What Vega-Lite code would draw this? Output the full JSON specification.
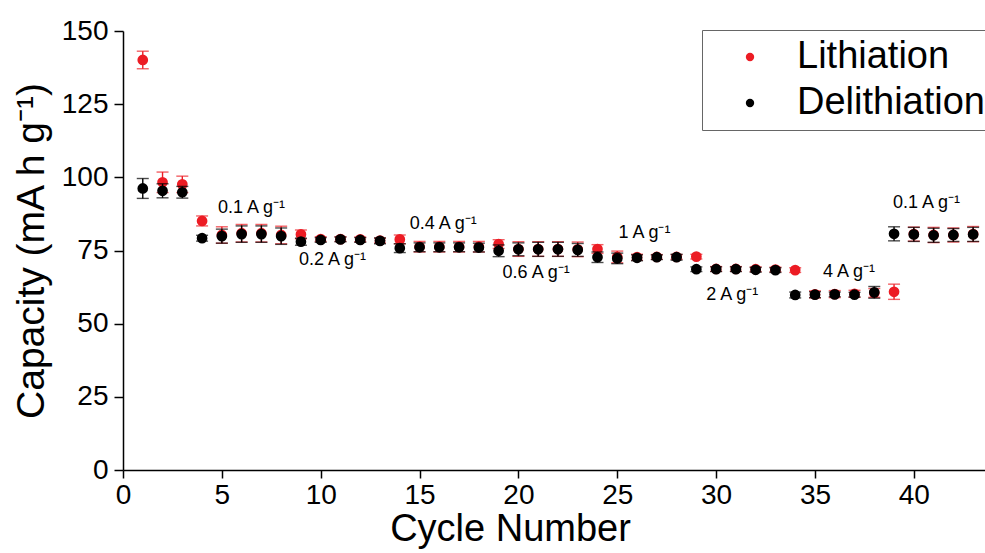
{
  "$schema": "https://vega.github.io/schema/vega-lite/v6.json",
  "width": 862,
  "height": 439,
  "autosize": {"type": "none"},
  "padding": {"left": 123, "top": 31, "right": 0, "bottom": 83},
  "background": "white",
  "config": {
    "view": {"stroke": null},
    "font": "Liberation Sans",
    "axis": {"domainColor": "black", "domainWidth": 1.5, "tickColor": "black", "tickWidth": 1.5, "labelColor": "black", "titleColor": "black", "labelFont": "Liberation Sans", "titleFont": "Liberation Sans", "titleFontWeight": "normal", "grid": false}
  },
  "datasets": {
    "cap": [
      {"cycle": 1, "series": "Lithiation", "cap": 140.1, "err": 3},
      {"cycle": 2, "series": "Lithiation", "cap": 98.3, "err": 3.5},
      {"cycle": 3, "series": "Lithiation", "cap": 97.6, "err": 2.8},
      {"cycle": 4, "series": "Lithiation", "cap": 85.1, "err": 1.7},
      {"cycle": 5, "series": "Lithiation", "cap": 80.3, "err": 2.8},
      {"cycle": 6, "series": "Lithiation", "cap": 80.9, "err": 3},
      {"cycle": 7, "series": "Lithiation", "cap": 80.9, "err": 3},
      {"cycle": 8, "series": "Lithiation", "cap": 80.3, "err": 3},
      {"cycle": 9, "series": "Lithiation", "cap": 80.5, "err": 1.5},
      {"cycle": 10, "series": "Lithiation", "cap": 78.9, "err": 0.8},
      {"cycle": 11, "series": "Lithiation", "cap": 78.9, "err": 0.8},
      {"cycle": 12, "series": "Lithiation", "cap": 78.8, "err": 0.8},
      {"cycle": 13, "series": "Lithiation", "cap": 78.4, "err": 0.8},
      {"cycle": 14, "series": "Lithiation", "cap": 78.8, "err": 1.5},
      {"cycle": 15, "series": "Lithiation", "cap": 76.3, "err": 1.8},
      {"cycle": 16, "series": "Lithiation", "cap": 76.3, "err": 1.8},
      {"cycle": 17, "series": "Lithiation", "cap": 76.3, "err": 1.8},
      {"cycle": 18, "series": "Lithiation", "cap": 76.3, "err": 1.8},
      {"cycle": 19, "series": "Lithiation", "cap": 77.2, "err": 1.5},
      {"cycle": 20, "series": "Lithiation", "cap": 75.5, "err": 2.5},
      {"cycle": 21, "series": "Lithiation", "cap": 75.5, "err": 2.5},
      {"cycle": 22, "series": "Lithiation", "cap": 75.5, "err": 2.5},
      {"cycle": 23, "series": "Lithiation", "cap": 75.4, "err": 2.5},
      {"cycle": 24, "series": "Lithiation", "cap": 75.5, "err": 1.5},
      {"cycle": 25, "series": "Lithiation", "cap": 72.8, "err": 2},
      {"cycle": 26, "series": "Lithiation", "cap": 72.7, "err": 1},
      {"cycle": 27, "series": "Lithiation", "cap": 72.8, "err": 0.8},
      {"cycle": 28, "series": "Lithiation", "cap": 72.8, "err": 0.8},
      {"cycle": 29, "series": "Lithiation", "cap": 72.9, "err": 0.8},
      {"cycle": 30, "series": "Lithiation", "cap": 68.7, "err": 0.8},
      {"cycle": 31, "series": "Lithiation", "cap": 68.7, "err": 0.8},
      {"cycle": 32, "series": "Lithiation", "cap": 68.6, "err": 0.8},
      {"cycle": 33, "series": "Lithiation", "cap": 68.5, "err": 0.8},
      {"cycle": 34, "series": "Lithiation", "cap": 68.3, "err": 0.8},
      {"cycle": 35, "series": "Lithiation", "cap": 60.0, "err": 1.2},
      {"cycle": 36, "series": "Lithiation", "cap": 60.1, "err": 1.2},
      {"cycle": 37, "series": "Lithiation", "cap": 60.2, "err": 1.2},
      {"cycle": 38, "series": "Lithiation", "cap": 60.5, "err": 1.5},
      {"cycle": 39, "series": "Lithiation", "cap": 60.9, "err": 2.6},
      {"cycle": 40, "series": "Lithiation", "cap": 80.6, "err": 2.4},
      {"cycle": 41, "series": "Lithiation", "cap": 80.3, "err": 2.6},
      {"cycle": 42, "series": "Lithiation", "cap": 80.3, "err": 2.4},
      {"cycle": 43, "series": "Lithiation", "cap": 80.6, "err": 2.6},
      {"cycle": 1, "series": "Delithiation", "cap": 96.2, "err": 3.4},
      {"cycle": 2, "series": "Delithiation", "cap": 95.4, "err": 2.4},
      {"cycle": 3, "series": "Delithiation", "cap": 94.9, "err": 2},
      {"cycle": 4, "series": "Delithiation", "cap": 79.2, "err": 1},
      {"cycle": 5, "series": "Delithiation", "cap": 79.9, "err": 2.4},
      {"cycle": 6, "series": "Delithiation", "cap": 80.6, "err": 2.8},
      {"cycle": 7, "series": "Delithiation", "cap": 80.6, "err": 2.8},
      {"cycle": 8, "series": "Delithiation", "cap": 79.9, "err": 2.8},
      {"cycle": 9, "series": "Delithiation", "cap": 78.0, "err": 1.2},
      {"cycle": 10, "series": "Delithiation", "cap": 78.6, "err": 0.8},
      {"cycle": 11, "series": "Delithiation", "cap": 78.8, "err": 0.8},
      {"cycle": 12, "series": "Delithiation", "cap": 78.6, "err": 0.8},
      {"cycle": 13, "series": "Delithiation", "cap": 78.3, "err": 1},
      {"cycle": 14, "series": "Delithiation", "cap": 75.8, "err": 1.5},
      {"cycle": 15, "series": "Delithiation", "cap": 76.1, "err": 1.5},
      {"cycle": 16, "series": "Delithiation", "cap": 76.1, "err": 1.5},
      {"cycle": 17, "series": "Delithiation", "cap": 76.1, "err": 1.5},
      {"cycle": 18, "series": "Delithiation", "cap": 76.0, "err": 1.5},
      {"cycle": 19, "series": "Delithiation", "cap": 74.9, "err": 2},
      {"cycle": 20, "series": "Delithiation", "cap": 75.4, "err": 2.2},
      {"cycle": 21, "series": "Delithiation", "cap": 75.4, "err": 2.4},
      {"cycle": 22, "series": "Delithiation", "cap": 75.4, "err": 2.4},
      {"cycle": 23, "series": "Delithiation", "cap": 75.2, "err": 2.2},
      {"cycle": 24, "series": "Delithiation", "cap": 72.7, "err": 1.8},
      {"cycle": 25, "series": "Delithiation", "cap": 72.3, "err": 1.8},
      {"cycle": 26, "series": "Delithiation", "cap": 72.5, "err": 1},
      {"cycle": 27, "series": "Delithiation", "cap": 72.7, "err": 0.8},
      {"cycle": 28, "series": "Delithiation", "cap": 72.7, "err": 1},
      {"cycle": 29, "series": "Delithiation", "cap": 68.6, "err": 0.8},
      {"cycle": 30, "series": "Delithiation", "cap": 68.6, "err": 0.8},
      {"cycle": 31, "series": "Delithiation", "cap": 68.6, "err": 0.8},
      {"cycle": 32, "series": "Delithiation", "cap": 68.4, "err": 0.8},
      {"cycle": 33, "series": "Delithiation", "cap": 68.3, "err": 0.8},
      {"cycle": 34, "series": "Delithiation", "cap": 59.8, "err": 1},
      {"cycle": 35, "series": "Delithiation", "cap": 59.9, "err": 1},
      {"cycle": 36, "series": "Delithiation", "cap": 60.0, "err": 0.8},
      {"cycle": 37, "series": "Delithiation", "cap": 59.9, "err": 0.8},
      {"cycle": 38, "series": "Delithiation", "cap": 60.7, "err": 2},
      {"cycle": 39, "series": "Delithiation", "cap": 80.7, "err": 2.4},
      {"cycle": 40, "series": "Delithiation", "cap": 80.5, "err": 2.4},
      {"cycle": 41, "series": "Delithiation", "cap": 80.2, "err": 2.4},
      {"cycle": 42, "series": "Delithiation", "cap": 80.3, "err": 2.2},
      {"cycle": 43, "series": "Delithiation", "cap": 80.5, "err": 2.4}
    ],
    "notes": [
      {"label": "0.1 A g⁻¹", "x": 4.8, "y": 89.5},
      {"label": "0.2 A g⁻¹", "x": 8.9, "y": 71.7},
      {"label": "0.4 A g⁻¹", "x": 14.5, "y": 84.0},
      {"label": "0.6 A g⁻¹", "x": 19.2, "y": 67.3},
      {"label": "1 A g⁻¹", "x": 25.06, "y": 81.0},
      {"label": "2 A g⁻¹", "x": 29.5, "y": 59.8},
      {"label": "4 A g⁻¹", "x": 35.4, "y": 67.6},
      {"label": "0.1 A g⁻¹", "x": 38.95, "y": 91.2}
    ]
  },
  "layer": [
    {
      "data": {"name": "cap"},
      "transform": [{"filter": "datum.series === 'Lithiation'"}],
      "mark": {"type": "errorbar", "color": "#ec1c24", "ticks": true, "size": 12, "thickness": 1.4},
      "encoding": {
        "x": {"field": "cycle", "type": "quantitative", "title": "Cycle Number", "scale": {"domain": [0, 43.6], "nice": false, "zero": false},
          "axis": {"values": [0, 5, 10, 15, 20, 25, 30, 35, 40], "labelFontSize": 28, "titleFontSize": 38, "tickSize": 8, "labelPadding": 3, "titlePadding": 1, "titleX": 387, "labelFlush": false}},
        "y": {"field": "cap", "type": "quantitative", "title": "Capacity (mA h g⁻¹)", "scale": {"domain": [0, 150], "nice": false},
          "axis": {"values": [0, 12.5, 25, 37.5, 50, 62.5, 75, 87.5, 100, 112.5, 125, 137.5, 150],
            "labelExpr": "datum.value % 25 === 0 ? datum.label : ''",
            "tickSize": {"condition": {"test": "datum.value % 25 === 0", "value": 9}, "value": 5},
            "labelFontSize": 28, "titleFontSize": 39, "labelPadding": 6, "titlePadding": 10, "labelFlush": false}},
        "yError": {"field": "err"}
      }
    },
    {
      "data": {"name": "cap"},
      "transform": [{"filter": "datum.series === 'Lithiation'"}],
      "mark": {"type": "point", "filled": true, "size": 115, "opacity": 1},
      "encoding": {
        "x": {"field": "cycle", "type": "quantitative", "title": "Cycle Number"},
        "y": {"field": "cap", "type": "quantitative", "title": "Capacity (mA h g⁻¹)"},
        "color": {"field": "series", "type": "nominal",
          "scale": {"domain": ["Lithiation", "Delithiation"], "range": ["#ec1c24", "#000000"]},
          "legend": {"orient": "none", "legendX": 579, "legendY": -1, "title": null, "labelFontSize": 38, "labelFont": "Liberation Sans", "labelColor": "black", "labelLimit": 500,
            "symbolSize": 70, "symbolType": "circle", "symbolStrokeWidth": 0, "symbolOpacity": 1, "strokeColor": "#666", "fillColor": "white", "padding": 8, "rowPadding": 8, "symbolOffset": 21, "labelOffset": 28}}
      }
    },
    {
      "data": {"name": "cap"},
      "transform": [{"filter": "datum.series === 'Delithiation'"}],
      "mark": {"type": "errorbar", "color": "#000000", "ticks": true, "size": 12, "thickness": 1.4},
      "encoding": {
        "x": {"field": "cycle", "type": "quantitative", "title": "Cycle Number"},
        "y": {"field": "cap", "type": "quantitative", "title": "Capacity (mA h g⁻¹)"},
        "yError": {"field": "err"}
      }
    },
    {
      "data": {"name": "cap"},
      "transform": [{"filter": "datum.series === 'Delithiation'"}],
      "mark": {"type": "point", "filled": true, "size": 115, "opacity": 1},
      "encoding": {
        "x": {"field": "cycle", "type": "quantitative", "title": "Cycle Number"},
        "y": {"field": "cap", "type": "quantitative", "title": "Capacity (mA h g⁻¹)"},
        "color": {"field": "series", "type": "nominal", "scale": {"domain": ["Lithiation", "Delithiation"], "range": ["#ec1c24", "#000000"]}}
      }
    },
    {
      "data": {"name": "notes"},
      "mark": {"type": "text", "align": "left", "baseline": "middle", "fontSize": 18, "font": "Liberation Sans", "color": "black"},
      "encoding": {
        "x": {"field": "x", "type": "quantitative", "title": "Cycle Number"},
        "y": {"field": "y", "type": "quantitative", "title": "Capacity (mA h g⁻¹)"},
        "text": {"field": "label"}
      }
    },
    {
      "mark": {"type": "rule", "color": "black", "strokeWidth": 1.5},
      "encoding": {"y": {"datum": 150}}
    }
  ]
}
